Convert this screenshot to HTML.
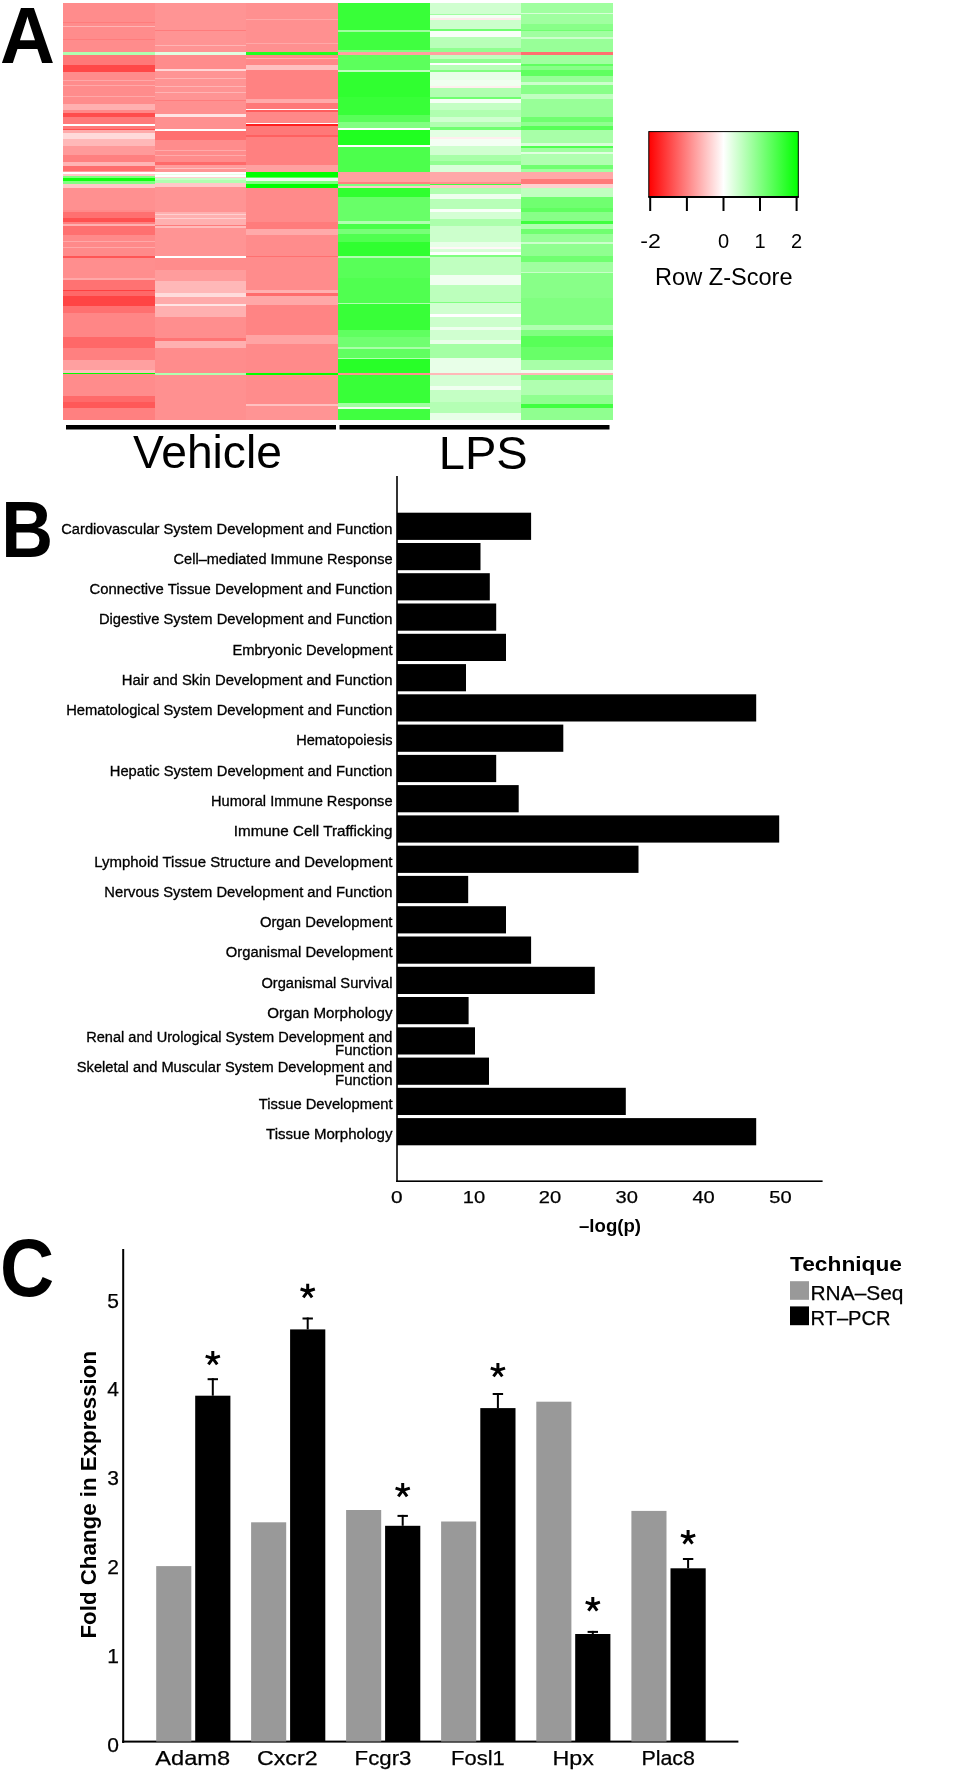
<!DOCTYPE html>
<html><head><meta charset="utf-8"><title>Figure</title>
<style>
html,body{margin:0;padding:0;background:#fff;}
body{width:965px;height:1778px;overflow:hidden;}
svg{display:block;will-change:transform;}
text{font-family:"Liberation Sans", sans-serif;fill:#000;}
</style></head>
<body>
<svg width="965" height="1778" viewBox="0 0 965 1778">
<rect x="0" y="0" width="965" height="1778" fill="#fff"/>
<g shape-rendering="crispEdges"><rect x="63" y="3.0" width="92" height="49.0" fill="#ff8c8c"/>
<rect x="63" y="22.0" width="92" height="1.0" fill="#ff7c7c"/>
<rect x="63" y="26.0" width="92" height="1.0" fill="#ffb4b4"/>
<rect x="63" y="39.0" width="92" height="1.0" fill="#ff7c7c"/>
<rect x="63" y="52.0" width="92" height="3.0" fill="#b0ffb0"/>
<rect x="63" y="55.0" width="92" height="10.0" fill="#ff7878"/>
<rect x="63" y="65.0" width="92" height="7.0" fill="#ff4848"/>
<rect x="63" y="72.0" width="92" height="32.0" fill="#ff8c8c"/>
<rect x="63" y="80.0" width="92" height="1.0" fill="#ffa8a8"/>
<rect x="63" y="85.0" width="92" height="1.0" fill="#ffa8a8"/>
<rect x="63" y="96.0" width="92" height="1.0" fill="#ffa8a8"/>
<rect x="63" y="104.0" width="92" height="6.0" fill="#ffb0b0"/>
<rect x="63" y="110.0" width="92" height="3.0" fill="#ff8888"/>
<rect x="63" y="113.0" width="92" height="4.0" fill="#ff4c4c"/>
<rect x="63" y="117.0" width="92" height="7.0" fill="#ff7a7a"/>
<rect x="63" y="124.0" width="92" height="1.5" fill="#ffffff"/>
<rect x="63" y="125.5" width="92" height="3.5" fill="#ff7a7a"/>
<rect x="63" y="129.0" width="92" height="1.0" fill="#ff5050"/>
<rect x="63" y="130.0" width="92" height="3.0" fill="#ffaaaa"/>
<rect x="63" y="133.0" width="92" height="6.0" fill="#ffdada"/>
<rect x="63" y="139.0" width="92" height="7.0" fill="#ffb8b8"/>
<rect x="63" y="146.0" width="92" height="9.0" fill="#ff9a9a"/>
<rect x="63" y="155.0" width="92" height="7.0" fill="#ff8080"/>
<rect x="63" y="162.0" width="92" height="4.0" fill="#ffb4b4"/>
<rect x="63" y="166.0" width="92" height="5.0" fill="#ff6e6e"/>
<rect x="63" y="171.0" width="92" height="1.0" fill="#ff9a9a"/>
<rect x="63" y="172.0" width="92" height="2.0" fill="#ffffff"/>
<rect x="63" y="174.0" width="92" height="2.0" fill="#ffc8c8"/>
<rect x="63" y="176.0" width="92" height="2.0" fill="#80ff80"/>
<rect x="63" y="178.0" width="92" height="3.0" fill="#10ff10"/>
<rect x="63" y="181.0" width="92" height="3.0" fill="#80ff80"/>
<rect x="63" y="184.0" width="92" height="4.0" fill="#ffc8c8"/>
<rect x="63" y="188.0" width="92" height="22.0" fill="#ff9090"/>
<rect x="63" y="210.0" width="92" height="2.0" fill="#ff8a8a"/>
<rect x="63" y="212.0" width="92" height="6.0" fill="#ff7070"/>
<rect x="63" y="218.0" width="92" height="4.0" fill="#ff5050"/>
<rect x="63" y="222.0" width="92" height="2.0" fill="#ff8080"/>
<rect x="63" y="224.0" width="92" height="2.0" fill="#ffb0b0"/>
<rect x="63" y="226.0" width="92" height="9.0" fill="#ff7070"/>
<rect x="63" y="235.0" width="92" height="21.0" fill="#ff8a8a"/>
<rect x="63" y="241.0" width="92" height="1.0" fill="#ffa8a8"/>
<rect x="63" y="247.0" width="92" height="1.0" fill="#ffa8a8"/>
<rect x="63" y="256.0" width="92" height="2.0" fill="#ff5555"/>
<rect x="63" y="258.0" width="92" height="20.0" fill="#ff8e8e"/>
<rect x="63" y="278.0" width="92" height="2.0" fill="#ffa8a8"/>
<rect x="63" y="280.0" width="92" height="10.0" fill="#ff7272"/>
<rect x="63" y="290.0" width="92" height="1.0" fill="#ff4040"/>
<rect x="63" y="291.0" width="92" height="5.0" fill="#ff6868"/>
<rect x="63" y="296.0" width="92" height="10.0" fill="#ff4444"/>
<rect x="63" y="306.0" width="92" height="7.0" fill="#ff7070"/>
<rect x="63" y="313.0" width="92" height="24.0" fill="#ff8686"/>
<rect x="63" y="337.0" width="92" height="11.0" fill="#ff6868"/>
<rect x="63" y="348.0" width="92" height="12.0" fill="#ff8080"/>
<rect x="63" y="360.0" width="92" height="10.0" fill="#ffa0a0"/>
<rect x="63" y="370.0" width="92" height="3.0" fill="#ffbcbc"/>
<rect x="63" y="373.0" width="92" height="1.0" fill="#00ff00"/>
<rect x="63" y="374.0" width="92" height="22.0" fill="#ff8c8c"/>
<rect x="63" y="396.0" width="92" height="6.0" fill="#ff6a6a"/>
<rect x="63" y="402.0" width="92" height="6.0" fill="#ff5858"/>
<rect x="63" y="408.0" width="92" height="11.800000000000011" fill="#ff8080"/>
<rect x="155" y="3.0" width="91" height="49.0" fill="#ff9494"/>
<rect x="155" y="30.0" width="91" height="1.0" fill="#ff7c7c"/>
<rect x="155" y="45.0" width="91" height="1.0" fill="#ffb4b4"/>
<rect x="155" y="52.0" width="91" height="3.0" fill="#e0ffe0"/>
<rect x="155" y="55.0" width="91" height="14.0" fill="#ff8c8c"/>
<rect x="155" y="69.0" width="91" height="2.0" fill="#ffd8d8"/>
<rect x="155" y="71.0" width="91" height="29.0" fill="#ff9494"/>
<rect x="155" y="78.0" width="91" height="1.0" fill="#ffb4b4"/>
<rect x="155" y="86.0" width="91" height="1.0" fill="#ffb4b4"/>
<rect x="155" y="92.0" width="91" height="1.0" fill="#ffb4b4"/>
<rect x="155" y="100.0" width="91" height="1.0" fill="#ff7c7c"/>
<rect x="155" y="101.0" width="91" height="13.0" fill="#ff9090"/>
<rect x="155" y="114.0" width="91" height="3.0" fill="#ffe4e4"/>
<rect x="155" y="117.0" width="91" height="12.0" fill="#ff9090"/>
<rect x="155" y="129.0" width="91" height="1.5" fill="#ffffff"/>
<rect x="155" y="130.5" width="91" height="9.5" fill="#ff7070"/>
<rect x="155" y="140.0" width="91" height="22.0" fill="#ff8c8c"/>
<rect x="155" y="150.0" width="91" height="1.0" fill="#ffaaaa"/>
<rect x="155" y="155.0" width="91" height="1.0" fill="#ffaaaa"/>
<rect x="155" y="162.0" width="91" height="3.0" fill="#ff6a6a"/>
<rect x="155" y="165.0" width="91" height="3.0" fill="#ff9c9c"/>
<rect x="155" y="168.0" width="91" height="1.0" fill="#ffc0c0"/>
<rect x="155" y="169.0" width="91" height="3.0" fill="#ff9494"/>
<rect x="155" y="172.0" width="91" height="2.0" fill="#ffffff"/>
<rect x="155" y="174.0" width="91" height="1.0" fill="#e8ffe8"/>
<rect x="155" y="175.0" width="91" height="2.0" fill="#ffffff"/>
<rect x="155" y="177.0" width="91" height="1.0" fill="#ffd0d0"/>
<rect x="155" y="178.0" width="91" height="2.0" fill="#c8ffc8"/>
<rect x="155" y="180.0" width="91" height="3.0" fill="#b0ffb0"/>
<rect x="155" y="183.0" width="91" height="4.0" fill="#ffc8c8"/>
<rect x="155" y="187.0" width="91" height="25.0" fill="#ff9494"/>
<rect x="155" y="212.0" width="91" height="13.0" fill="#ffb0b0"/>
<rect x="155" y="214.0" width="91" height="1.0" fill="#ffd0d0"/>
<rect x="155" y="218.0" width="91" height="1.0" fill="#ffd0d0"/>
<rect x="155" y="225.0" width="91" height="1.0" fill="#ff7c7c"/>
<rect x="155" y="226.0" width="91" height="2.0" fill="#ffbcbc"/>
<rect x="155" y="228.0" width="91" height="28.0" fill="#ff9494"/>
<rect x="155" y="256.0" width="91" height="2.0" fill="#ffffff"/>
<rect x="155" y="258.0" width="91" height="12.0" fill="#ff8c8c"/>
<rect x="155" y="270.0" width="91" height="11.0" fill="#ff9c9c"/>
<rect x="155" y="281.0" width="91" height="12.0" fill="#ffb8b8"/>
<rect x="155" y="293.0" width="91" height="4.0" fill="#ffdcdc"/>
<rect x="155" y="297.0" width="91" height="7.0" fill="#ffaaaa"/>
<rect x="155" y="304.0" width="91" height="2.0" fill="#ffe4e4"/>
<rect x="155" y="306.0" width="91" height="11.0" fill="#ffb0b0"/>
<rect x="155" y="317.0" width="91" height="21.0" fill="#ff8e8e"/>
<rect x="155" y="338.0" width="91" height="3.0" fill="#ff7474"/>
<rect x="155" y="341.0" width="91" height="7.0" fill="#ffb0b0"/>
<rect x="155" y="348.0" width="91" height="25.0" fill="#ff8c8c"/>
<rect x="155" y="373.0" width="91" height="2.0" fill="#b0ffb0"/>
<rect x="155" y="375.0" width="91" height="44.80000000000001" fill="#ff9090"/>
<rect x="246" y="3.0" width="92" height="49.0" fill="#ff9090"/>
<rect x="246" y="19.0" width="92" height="1.0" fill="#ffa8a8"/>
<rect x="246" y="43.0" width="92" height="1.0" fill="#ffa8a8"/>
<rect x="246" y="52.0" width="92" height="3.0" fill="#20ff20"/>
<rect x="246" y="55.0" width="92" height="10.0" fill="#ff8888"/>
<rect x="246" y="58.0" width="92" height="1.0" fill="#ffb0b0"/>
<rect x="246" y="65.0" width="92" height="5.0" fill="#ffc0c0"/>
<rect x="246" y="70.0" width="92" height="29.0" fill="#ff8282"/>
<rect x="246" y="99.0" width="92" height="4.0" fill="#ffaaaa"/>
<rect x="246" y="103.0" width="92" height="6.0" fill="#ff7878"/>
<rect x="246" y="109.0" width="92" height="1.0" fill="#ffffff"/>
<rect x="246" y="110.0" width="92" height="2.0" fill="#ff5c5c"/>
<rect x="246" y="112.0" width="92" height="11.0" fill="#ff8888"/>
<rect x="246" y="123.0" width="92" height="1.0" fill="#ffffff"/>
<rect x="246" y="124.0" width="92" height="1.5" fill="#ff2020"/>
<rect x="246" y="125.5" width="92" height="9.5" fill="#ff7878"/>
<rect x="246" y="135.0" width="92" height="2.0" fill="#ff6060"/>
<rect x="246" y="137.0" width="92" height="28.0" fill="#ff8080"/>
<rect x="246" y="165.0" width="92" height="7.0" fill="#ffa0a0"/>
<rect x="246" y="172.0" width="92" height="5.0" fill="#00ff00"/>
<rect x="246" y="177.0" width="92" height="1.0" fill="#60ff60"/>
<rect x="246" y="178.0" width="92" height="3.0" fill="#f0f8f0"/>
<rect x="246" y="181.0" width="92" height="3.0" fill="#80ff80"/>
<rect x="246" y="184.0" width="92" height="4.0" fill="#00ff00"/>
<rect x="246" y="188.0" width="92" height="34.0" fill="#ff8a8a"/>
<rect x="246" y="222.0" width="92" height="7.0" fill="#ff7c7c"/>
<rect x="246" y="229.0" width="92" height="6.0" fill="#ffaaaa"/>
<rect x="246" y="235.0" width="92" height="21.0" fill="#ff8c8c"/>
<rect x="246" y="256.0" width="92" height="1.0" fill="#ff7070"/>
<rect x="246" y="257.0" width="92" height="33.0" fill="#ff8c8c"/>
<rect x="246" y="290.0" width="92" height="3.0" fill="#ffb0b0"/>
<rect x="246" y="293.0" width="92" height="3.0" fill="#ff6c6c"/>
<rect x="246" y="296.0" width="92" height="9.0" fill="#ffa8a8"/>
<rect x="246" y="305.0" width="92" height="30.0" fill="#ff8484"/>
<rect x="246" y="335.0" width="92" height="9.0" fill="#ffa4a4"/>
<rect x="246" y="344.0" width="92" height="29.0" fill="#ff8a8a"/>
<rect x="246" y="373.0" width="92" height="2.0" fill="#00ff00"/>
<rect x="246" y="375.0" width="92" height="29.0" fill="#ff8c8c"/>
<rect x="246" y="404.0" width="92" height="2.0" fill="#ffc0c0"/>
<rect x="246" y="406.0" width="92" height="13.800000000000011" fill="#ff9494"/>
<rect x="338" y="3.0" width="92" height="27.0" fill="#38ff38"/>
<rect x="338" y="30.0" width="92" height="2.0" fill="#a0ffa0"/>
<rect x="338" y="32.0" width="92" height="18.0" fill="#40ff40"/>
<rect x="338" y="50.0" width="92" height="2.0" fill="#80ff80"/>
<rect x="338" y="52.0" width="92" height="3.0" fill="#ffa0a0"/>
<rect x="338" y="55.0" width="92" height="15.0" fill="#5cff5c"/>
<rect x="338" y="70.0" width="92" height="2.0" fill="#c0ffc0"/>
<rect x="338" y="72.0" width="92" height="25.0" fill="#30ff30"/>
<rect x="338" y="97.0" width="92" height="18.0" fill="#38ff38"/>
<rect x="338" y="115.0" width="92" height="7.0" fill="#58ff58"/>
<rect x="338" y="122.0" width="92" height="6.0" fill="#80ff80"/>
<rect x="338" y="128.0" width="92" height="2.0" fill="#ffffff"/>
<rect x="338" y="130.0" width="92" height="15.0" fill="#20ff20"/>
<rect x="338" y="145.0" width="92" height="2.0" fill="#ffffff"/>
<rect x="338" y="147.0" width="92" height="25.0" fill="#4cff4c"/>
<rect x="338" y="172.0" width="92" height="10.0" fill="#ffa0a0"/>
<rect x="338" y="182.0" width="92" height="2.0" fill="#ff8080"/>
<rect x="338" y="184.0" width="92" height="2.0" fill="#80ff80"/>
<rect x="338" y="186.0" width="92" height="2.0" fill="#ffcccc"/>
<rect x="338" y="188.0" width="92" height="9.0" fill="#30ff30"/>
<rect x="338" y="197.0" width="92" height="24.0" fill="#68ff68"/>
<rect x="338" y="221.0" width="92" height="3.0" fill="#b0ffb0"/>
<rect x="338" y="224.0" width="92" height="5.0" fill="#48ff48"/>
<rect x="338" y="229.0" width="92" height="5.0" fill="#78ff78"/>
<rect x="338" y="234.0" width="92" height="8.0" fill="#50ff50"/>
<rect x="338" y="242.0" width="92" height="14.0" fill="#30ff30"/>
<rect x="338" y="256.0" width="92" height="2.0" fill="#b0ffb0"/>
<rect x="338" y="258.0" width="92" height="20.0" fill="#58ff58"/>
<rect x="338" y="278.0" width="92" height="25.0" fill="#50ff50"/>
<rect x="338" y="303.0" width="92" height="1.0" fill="#b0ffb0"/>
<rect x="338" y="304.0" width="92" height="26.0" fill="#38ff38"/>
<rect x="338" y="330.0" width="92" height="7.0" fill="#60ff60"/>
<rect x="338" y="337.0" width="92" height="10.0" fill="#70ff70"/>
<rect x="338" y="347.0" width="92" height="2.0" fill="#a8ffa8"/>
<rect x="338" y="349.0" width="92" height="9.0" fill="#60ff60"/>
<rect x="338" y="358.0" width="92" height="1.0" fill="#b0ffb0"/>
<rect x="338" y="359.0" width="92" height="14.0" fill="#28ff28"/>
<rect x="338" y="373.0" width="92" height="2.0" fill="#ff9090"/>
<rect x="338" y="375.0" width="92" height="28.0" fill="#38ff38"/>
<rect x="338" y="403.0" width="92" height="4.0" fill="#a0ffa0"/>
<rect x="338" y="407.0" width="92" height="2.0" fill="#f0fff0"/>
<rect x="338" y="409.0" width="92" height="10.800000000000011" fill="#40ff40"/>
<rect x="430" y="3.0" width="91" height="11.0" fill="#d0ffd0"/>
<rect x="430" y="14.0" width="91" height="1.0" fill="#a0ffa0"/>
<rect x="430" y="15.0" width="91" height="3.0" fill="#f4fff4"/>
<rect x="430" y="18.0" width="91" height="2.0" fill="#ffeaea"/>
<rect x="430" y="20.0" width="91" height="9.0" fill="#ccffcc"/>
<rect x="430" y="29.0" width="91" height="2.0" fill="#70ff70"/>
<rect x="430" y="31.0" width="91" height="6.0" fill="#f8fff8"/>
<rect x="430" y="37.0" width="91" height="11.0" fill="#b8ffb8"/>
<rect x="430" y="48.0" width="91" height="4.0" fill="#90ff90"/>
<rect x="430" y="52.0" width="91" height="3.0" fill="#ffa0a0"/>
<rect x="430" y="55.0" width="91" height="4.0" fill="#c0ffc0"/>
<rect x="430" y="59.0" width="91" height="4.0" fill="#90ff90"/>
<rect x="430" y="63.0" width="91" height="2.0" fill="#ffffff"/>
<rect x="430" y="65.0" width="91" height="5.0" fill="#b8ffb8"/>
<rect x="430" y="70.0" width="91" height="2.0" fill="#80ff80"/>
<rect x="430" y="72.0" width="91" height="8.0" fill="#e8ffe8"/>
<rect x="430" y="80.0" width="91" height="6.0" fill="#f0fff0"/>
<rect x="430" y="86.0" width="91" height="2.0" fill="#ffeeee"/>
<rect x="430" y="88.0" width="91" height="9.0" fill="#b0ffb0"/>
<rect x="430" y="97.0" width="91" height="2.0" fill="#70ff70"/>
<rect x="430" y="99.0" width="91" height="4.0" fill="#f4fff4"/>
<rect x="430" y="103.0" width="91" height="7.0" fill="#c4ffc4"/>
<rect x="430" y="110.0" width="91" height="7.0" fill="#b0ffb0"/>
<rect x="430" y="117.0" width="91" height="5.0" fill="#d0ffd0"/>
<rect x="430" y="122.0" width="91" height="5.0" fill="#b0ffb0"/>
<rect x="430" y="127.0" width="91" height="3.0" fill="#70ff70"/>
<rect x="430" y="130.0" width="91" height="7.0" fill="#e4ffe4"/>
<rect x="430" y="137.0" width="91" height="2.0" fill="#ffeeee"/>
<rect x="430" y="139.0" width="91" height="7.0" fill="#f4fff4"/>
<rect x="430" y="146.0" width="91" height="9.0" fill="#d0ffd0"/>
<rect x="430" y="155.0" width="91" height="6.0" fill="#a8ffa8"/>
<rect x="430" y="161.0" width="91" height="4.0" fill="#90ff90"/>
<rect x="430" y="165.0" width="91" height="7.0" fill="#d8ffd8"/>
<rect x="430" y="172.0" width="91" height="10.0" fill="#ffa8a8"/>
<rect x="430" y="182.0" width="91" height="2.0" fill="#ff9090"/>
<rect x="430" y="184.0" width="91" height="1.0" fill="#40ff40"/>
<rect x="430" y="185.0" width="91" height="3.0" fill="#ffc8c8"/>
<rect x="430" y="188.0" width="91" height="6.0" fill="#b0ffb0"/>
<rect x="430" y="194.0" width="91" height="5.0" fill="#eeffee"/>
<rect x="430" y="199.0" width="91" height="10.0" fill="#b8ffb8"/>
<rect x="430" y="209.0" width="91" height="3.0" fill="#f8fff8"/>
<rect x="430" y="212.0" width="91" height="7.0" fill="#d4ffd4"/>
<rect x="430" y="219.0" width="91" height="7.0" fill="#acffac"/>
<rect x="430" y="226.0" width="91" height="16.0" fill="#ccffcc"/>
<rect x="430" y="242.0" width="91" height="5.0" fill="#e8ffe8"/>
<rect x="430" y="247.0" width="91" height="2.0" fill="#fff8f8"/>
<rect x="430" y="249.0" width="91" height="3.0" fill="#d8ffd8"/>
<rect x="430" y="252.0" width="91" height="3.0" fill="#ffffff"/>
<rect x="430" y="255.0" width="91" height="2.0" fill="#80ff80"/>
<rect x="430" y="257.0" width="91" height="18.0" fill="#c0ffc0"/>
<rect x="430" y="275.0" width="91" height="10.0" fill="#f0fff0"/>
<rect x="430" y="285.0" width="91" height="17.0" fill="#bcffbc"/>
<rect x="430" y="302.0" width="91" height="1.0" fill="#80ff80"/>
<rect x="430" y="303.0" width="91" height="11.0" fill="#d0ffd0"/>
<rect x="430" y="314.0" width="91" height="3.0" fill="#ffffff"/>
<rect x="430" y="317.0" width="91" height="10.0" fill="#ccffcc"/>
<rect x="430" y="327.0" width="91" height="3.0" fill="#eeffee"/>
<rect x="430" y="330.0" width="91" height="10.0" fill="#d0ffd0"/>
<rect x="430" y="340.0" width="91" height="4.0" fill="#e8ffe8"/>
<rect x="430" y="344.0" width="91" height="14.0" fill="#a4ffa4"/>
<rect x="430" y="358.0" width="91" height="15.0" fill="#e8ffe8"/>
<rect x="430" y="373.0" width="91" height="2.0" fill="#ffb8b8"/>
<rect x="430" y="375.0" width="91" height="11.0" fill="#d4ffd4"/>
<rect x="430" y="386.0" width="91" height="4.0" fill="#f0fff0"/>
<rect x="430" y="390.0" width="91" height="12.0" fill="#c4ffc4"/>
<rect x="430" y="402.0" width="91" height="11.0" fill="#b4ffb4"/>
<rect x="430" y="413.0" width="91" height="6.800000000000011" fill="#e8ffe8"/>
<rect x="521" y="3.0" width="92" height="10.0" fill="#a0ffa0"/>
<rect x="521" y="13.0" width="92" height="1.0" fill="#d8ffd8"/>
<rect x="521" y="14.0" width="92" height="10.0" fill="#a0ffa0"/>
<rect x="521" y="24.0" width="92" height="6.0" fill="#88ff88"/>
<rect x="521" y="30.0" width="92" height="1.0" fill="#70ff70"/>
<rect x="521" y="31.0" width="92" height="6.0" fill="#a0ffa0"/>
<rect x="521" y="37.0" width="92" height="2.0" fill="#ccffcc"/>
<rect x="521" y="39.0" width="92" height="13.0" fill="#98ff98"/>
<rect x="521" y="52.0" width="92" height="3.0" fill="#ff7070"/>
<rect x="521" y="55.0" width="92" height="9.0" fill="#a0ffa0"/>
<rect x="521" y="64.0" width="92" height="2.0" fill="#60ff60"/>
<rect x="521" y="66.0" width="92" height="4.0" fill="#88ff88"/>
<rect x="521" y="70.0" width="92" height="6.0" fill="#60ff60"/>
<rect x="521" y="76.0" width="92" height="6.0" fill="#98ff98"/>
<rect x="521" y="82.0" width="92" height="3.0" fill="#ccffcc"/>
<rect x="521" y="85.0" width="92" height="9.0" fill="#88ff88"/>
<rect x="521" y="94.0" width="92" height="5.0" fill="#c0ffc0"/>
<rect x="521" y="99.0" width="92" height="18.0" fill="#98ff98"/>
<rect x="521" y="117.0" width="92" height="5.0" fill="#70ff70"/>
<rect x="521" y="122.0" width="92" height="4.0" fill="#90ff90"/>
<rect x="521" y="126.0" width="92" height="4.0" fill="#58ff58"/>
<rect x="521" y="130.0" width="92" height="13.0" fill="#a8ffa8"/>
<rect x="521" y="143.0" width="92" height="3.0" fill="#d8ffd8"/>
<rect x="521" y="146.0" width="92" height="2.0" fill="#50ff50"/>
<rect x="521" y="148.0" width="92" height="4.0" fill="#a0ffa0"/>
<rect x="521" y="152.0" width="92" height="2.0" fill="#e0ffe0"/>
<rect x="521" y="154.0" width="92" height="11.0" fill="#b0ffb0"/>
<rect x="521" y="165.0" width="92" height="4.0" fill="#70ff70"/>
<rect x="521" y="169.0" width="92" height="3.0" fill="#a0ffa0"/>
<rect x="521" y="172.0" width="92" height="7.0" fill="#ffa8a8"/>
<rect x="521" y="179.0" width="92" height="5.0" fill="#ff7a7a"/>
<rect x="521" y="184.0" width="92" height="4.0" fill="#ffd0d0"/>
<rect x="521" y="188.0" width="92" height="9.0" fill="#c0ffc0"/>
<rect x="521" y="197.0" width="92" height="11.0" fill="#70ff70"/>
<rect x="521" y="208.0" width="92" height="4.0" fill="#60ff60"/>
<rect x="521" y="212.0" width="92" height="9.0" fill="#88ff88"/>
<rect x="521" y="221.0" width="92" height="3.0" fill="#40ff40"/>
<rect x="521" y="224.0" width="92" height="5.0" fill="#b0ffb0"/>
<rect x="521" y="229.0" width="92" height="5.0" fill="#70ff70"/>
<rect x="521" y="234.0" width="92" height="8.0" fill="#98ff98"/>
<rect x="521" y="242.0" width="92" height="2.0" fill="#ccffcc"/>
<rect x="521" y="244.0" width="92" height="12.0" fill="#90ff90"/>
<rect x="521" y="256.0" width="92" height="6.0" fill="#70ff70"/>
<rect x="521" y="262.0" width="92" height="10.0" fill="#a0ffa0"/>
<rect x="521" y="272.0" width="92" height="1.0" fill="#c8ffc8"/>
<rect x="521" y="273.0" width="92" height="25.0" fill="#88ff88"/>
<rect x="521" y="298.0" width="92" height="27.0" fill="#80ff80"/>
<rect x="521" y="325.0" width="92" height="5.0" fill="#b0ffb0"/>
<rect x="521" y="330.0" width="92" height="6.0" fill="#80ff80"/>
<rect x="521" y="336.0" width="92" height="11.0" fill="#58ff58"/>
<rect x="521" y="347.0" width="92" height="13.0" fill="#68ff68"/>
<rect x="521" y="360.0" width="92" height="10.0" fill="#a8ffa8"/>
<rect x="521" y="370.0" width="92" height="3.0" fill="#f0fff0"/>
<rect x="521" y="373.0" width="92" height="2.0" fill="#ffb8b8"/>
<rect x="521" y="375.0" width="92" height="5.0" fill="#80ff80"/>
<rect x="521" y="380.0" width="92" height="15.0" fill="#b0ffb0"/>
<rect x="521" y="395.0" width="92" height="9.0" fill="#90ff90"/>
<rect x="521" y="404.0" width="92" height="4.0" fill="#40ff40"/>
<rect x="521" y="408.0" width="92" height="11.800000000000011" fill="#90ff90"/></g>
<text transform="translate(0.04,62.8) scale(1.014,1.06)" x="0" y="0" font-size="75" font-weight="bold">A</text>
<rect x="66" y="425" width="270" height="4.5" fill="#000"/>
<rect x="339.5" y="425" width="270" height="4.5" fill="#000"/>
<text x="133" y="468.3" font-size="45.5" textLength="148.9" lengthAdjust="spacingAndGlyphs">Vehicle</text>
<text x="438.8" y="468.5" font-size="46" textLength="88.9" lengthAdjust="spacingAndGlyphs">LPS</text>
<defs><linearGradient id="zg" x1="0" x2="1" y1="0" y2="0">
<stop offset="0" stop-color="#ff0000"/><stop offset="0.5" stop-color="#ffffff"/><stop offset="1" stop-color="#00ff00"/>
</linearGradient></defs>
<rect x="648.8" y="131.6" width="149.5" height="65" fill="url(#zg)" stroke="#000" stroke-width="1"/>
<rect x="648.3" y="196" width="150.5" height="2" fill="#000"/>
<rect x="649.2" y="197" width="2" height="14" fill="#000"/>
<rect x="685.9" y="197" width="2" height="14" fill="#000"/>
<rect x="722.5" y="197" width="2" height="14" fill="#000"/>
<rect x="759" y="197" width="2" height="14" fill="#000"/>
<rect x="795.6" y="197" width="2" height="14" fill="#000"/>
<text x="640.2" y="247.5" font-size="20" textLength="20.6" lengthAdjust="spacingAndGlyphs">-2</text>
<text x="723.5" y="247.5" font-size="20" text-anchor="middle">0</text>
<text x="760" y="247.5" font-size="20" text-anchor="middle">1</text>
<text x="796.6" y="247.5" font-size="20" text-anchor="middle">2</text>
<text x="655" y="284.8" font-size="23.2" textLength="137.6" lengthAdjust="spacingAndGlyphs">Row Z-Score</text>
<text transform="translate(1.2,557) scale(0.957,1.059)" x="0" y="0" font-size="75" font-weight="bold">B</text>
<rect x="397" y="512.7" width="134.1" height="27.2" fill="#000"/>
<text x="61.2" y="533.5" font-size="14" stroke="#000" stroke-width="0.3" textLength="331.3" lengthAdjust="spacingAndGlyphs">Cardiovascular System Development and Function</text>
<rect x="397" y="543.0" width="83.5" height="27.2" fill="#000"/>
<text x="173.6" y="563.8" font-size="14" stroke="#000" stroke-width="0.3" textLength="218.9" lengthAdjust="spacingAndGlyphs">Cell–mediated Immune Response</text>
<rect x="397" y="573.2" width="92.8" height="27.2" fill="#000"/>
<text x="89.5" y="594.0" font-size="14" stroke="#000" stroke-width="0.3" textLength="303.0" lengthAdjust="spacingAndGlyphs">Connective Tissue Development and Function</text>
<rect x="397" y="603.5" width="99.2" height="27.2" fill="#000"/>
<text x="98.9" y="624.3" font-size="14" stroke="#000" stroke-width="0.3" textLength="293.6" lengthAdjust="spacingAndGlyphs">Digestive System Development and Function</text>
<rect x="397" y="633.8" width="109.0" height="27.2" fill="#000"/>
<text x="232.39999999999998" y="654.6" font-size="14" stroke="#000" stroke-width="0.3" textLength="160.1" lengthAdjust="spacingAndGlyphs">Embryonic Development</text>
<rect x="397" y="664.1" width="69.0" height="27.2" fill="#000"/>
<text x="121.7" y="684.9" font-size="14" stroke="#000" stroke-width="0.3" textLength="270.8" lengthAdjust="spacingAndGlyphs">Hair and Skin Development and Function</text>
<rect x="397" y="694.3" width="359.2" height="27.2" fill="#000"/>
<text x="66.2" y="715.1" font-size="14" stroke="#000" stroke-width="0.3" textLength="326.3" lengthAdjust="spacingAndGlyphs">Hematological System Development and Function</text>
<rect x="397" y="724.6" width="166.3" height="27.2" fill="#000"/>
<text x="296.2" y="745.4" font-size="14" stroke="#000" stroke-width="0.3" textLength="96.3" lengthAdjust="spacingAndGlyphs">Hematopoiesis</text>
<rect x="397" y="754.9" width="99.2" height="27.2" fill="#000"/>
<text x="109.8" y="775.7" font-size="14" stroke="#000" stroke-width="0.3" textLength="282.7" lengthAdjust="spacingAndGlyphs">Hepatic System Development and Function</text>
<rect x="397" y="785.1" width="121.7" height="27.2" fill="#000"/>
<text x="211.0" y="805.9" font-size="14" stroke="#000" stroke-width="0.3" textLength="181.5" lengthAdjust="spacingAndGlyphs">Humoral Immune Response</text>
<rect x="397" y="815.4" width="382.2" height="27.2" fill="#000"/>
<text x="233.79999999999998" y="836.2" font-size="14" stroke="#000" stroke-width="0.3" textLength="158.7" lengthAdjust="spacingAndGlyphs">Immune Cell Trafficking</text>
<rect x="397" y="845.7" width="241.5" height="27.2" fill="#000"/>
<text x="94.2" y="866.5" font-size="14" stroke="#000" stroke-width="0.3" textLength="298.3" lengthAdjust="spacingAndGlyphs">Lymphoid Tissue Structure and Development</text>
<rect x="397" y="875.9" width="71.2" height="27.2" fill="#000"/>
<text x="104.3" y="896.7" font-size="14" stroke="#000" stroke-width="0.3" textLength="288.2" lengthAdjust="spacingAndGlyphs">Nervous System Development and Function</text>
<rect x="397" y="906.2" width="109.0" height="27.2" fill="#000"/>
<text x="259.9" y="927.0" font-size="14" stroke="#000" stroke-width="0.3" textLength="132.6" lengthAdjust="spacingAndGlyphs">Organ Development</text>
<rect x="397" y="936.5" width="134.1" height="27.2" fill="#000"/>
<text x="225.79999999999998" y="957.3" font-size="14" stroke="#000" stroke-width="0.3" textLength="166.7" lengthAdjust="spacingAndGlyphs">Organismal Development</text>
<rect x="397" y="966.8" width="197.8" height="27.2" fill="#000"/>
<text x="261.4" y="987.5" font-size="14" stroke="#000" stroke-width="0.3" textLength="131.1" lengthAdjust="spacingAndGlyphs">Organismal Survival</text>
<rect x="397" y="997.0" width="71.6" height="27.2" fill="#000"/>
<text x="267.2" y="1017.8" font-size="14" stroke="#000" stroke-width="0.3" textLength="125.3" lengthAdjust="spacingAndGlyphs">Organ Morphology</text>
<rect x="397" y="1027.3" width="78.0" height="27.2" fill="#000"/>
<text x="86.2" y="1041.5" font-size="14" stroke="#000" stroke-width="0.3" textLength="306.3" lengthAdjust="spacingAndGlyphs">Renal and Urological System Development and</text>
<text x="335.0" y="1054.5" font-size="14" stroke="#000" stroke-width="0.3" textLength="57.5" lengthAdjust="spacingAndGlyphs">Function</text>
<rect x="397" y="1057.6" width="92.0" height="27.2" fill="#000"/>
<text x="76.8" y="1071.8" font-size="14" stroke="#000" stroke-width="0.3" textLength="315.7" lengthAdjust="spacingAndGlyphs">Skeletal and Muscular System Development and</text>
<text x="335.0" y="1084.8" font-size="14" stroke="#000" stroke-width="0.3" textLength="57.5" lengthAdjust="spacingAndGlyphs">Function</text>
<rect x="397" y="1087.8" width="228.8" height="27.2" fill="#000"/>
<text x="258.8" y="1108.6" font-size="14" stroke="#000" stroke-width="0.3" textLength="133.7" lengthAdjust="spacingAndGlyphs">Tissue Development</text>
<rect x="397" y="1118.1" width="359.2" height="27.2" fill="#000"/>
<text x="266.09999999999997" y="1138.9" font-size="14" stroke="#000" stroke-width="0.3" textLength="126.4" lengthAdjust="spacingAndGlyphs">Tissue Morphology</text>
<rect x="396.2" y="476" width="1.6" height="706" fill="#000"/>
<rect x="396.2" y="1180.4" width="426.4" height="1.6" fill="#000"/>
<text x="390.9" y="1203.2" font-size="17" stroke="#000" stroke-width="0.25" textLength="11.6" lengthAdjust="spacingAndGlyphs">0</text>
<text x="462.8" y="1203.2" font-size="17" stroke="#000" stroke-width="0.25" textLength="22.4" lengthAdjust="spacingAndGlyphs">10</text>
<text x="538.8" y="1203.2" font-size="17" stroke="#000" stroke-width="0.25" textLength="22.4" lengthAdjust="spacingAndGlyphs">20</text>
<text x="615.6" y="1203.2" font-size="17" stroke="#000" stroke-width="0.25" textLength="22.4" lengthAdjust="spacingAndGlyphs">30</text>
<text x="692.4" y="1203.2" font-size="17" stroke="#000" stroke-width="0.25" textLength="22.4" lengthAdjust="spacingAndGlyphs">40</text>
<text x="769.3" y="1203.2" font-size="17" stroke="#000" stroke-width="0.25" textLength="22.4" lengthAdjust="spacingAndGlyphs">50</text>
<text x="579" y="1232" font-size="19" font-weight="bold" textLength="62" lengthAdjust="spacingAndGlyphs">–log(p)</text>
<text transform="translate(0,1296) scale(1.0,1.079)" x="0" y="0" font-size="75" font-weight="bold">C</text>
<rect x="122.2" y="1249" width="2" height="494" fill="#000"/>
<rect x="122.2" y="1740.6" width="616.2" height="2" fill="#000"/>
<text x="119" y="1752.0" font-size="21" stroke="#000" stroke-width="0.25" text-anchor="end">0</text>
<text x="119" y="1663.1" font-size="21" stroke="#000" stroke-width="0.25" text-anchor="end">1</text>
<text x="119" y="1574.2" font-size="21" stroke="#000" stroke-width="0.25" text-anchor="end">2</text>
<text x="119" y="1485.3" font-size="21" stroke="#000" stroke-width="0.25" text-anchor="end">3</text>
<text x="119" y="1396.4" font-size="21" stroke="#000" stroke-width="0.25" text-anchor="end">4</text>
<text x="119" y="1307.5" font-size="21" stroke="#000" stroke-width="0.25" text-anchor="end">5</text>
<text transform="translate(96,1638.5) rotate(-90)" x="0" y="0" font-size="22" font-weight="bold" textLength="287.5" lengthAdjust="spacingAndGlyphs">Fold Change in Expression</text>
<rect x="156.2" y="1566.1" width="35.1" height="175.4" fill="#999999"/>
<rect x="195.2" y="1395.7" width="35.2" height="345.8" fill="#000"/>
<rect x="211.8" y="1378.2" width="2" height="17.5" fill="#000"/>
<rect x="207.6" y="1378.2" width="10.4" height="2" fill="#000"/>
<path d="M212.80 1358.40L212.80 1350.90 M212.80 1358.40L205.67 1356.08 M212.80 1358.40L208.39 1364.47 M212.80 1358.40L217.21 1364.47 M212.80 1358.40L219.93 1356.08" stroke="#000" stroke-width="3" fill="none"/>
<text x="155.3" y="1765.3" font-size="21" stroke="#000" stroke-width="0.25" textLength="74.9" lengthAdjust="spacingAndGlyphs">Adam8</text>
<rect x="251.1" y="1522.3" width="35.1" height="219.2" fill="#999999"/>
<rect x="290.1" y="1329.4" width="35.2" height="412.1" fill="#000"/>
<rect x="306.7" y="1317.5" width="2" height="11.9" fill="#000"/>
<rect x="302.5" y="1317.5" width="10.4" height="2" fill="#000"/>
<path d="M307.70 1291.30L307.70 1283.80 M307.70 1291.30L300.57 1288.98 M307.70 1291.30L303.29 1297.37 M307.70 1291.30L312.11 1297.37 M307.70 1291.30L314.83 1288.98" stroke="#000" stroke-width="3" fill="none"/>
<text x="257.0" y="1765.3" font-size="21" stroke="#000" stroke-width="0.25" textLength="60.6" lengthAdjust="spacingAndGlyphs">Cxcr2</text>
<rect x="346.1" y="1510.0" width="35.1" height="231.5" fill="#999999"/>
<rect x="385.1" y="1525.8" width="35.2" height="215.7" fill="#000"/>
<rect x="401.7" y="1514.9" width="2" height="10.9" fill="#000"/>
<rect x="397.5" y="1514.9" width="10.4" height="2" fill="#000"/>
<path d="M402.70 1490.40L402.70 1482.90 M402.70 1490.40L395.57 1488.08 M402.70 1490.40L398.29 1496.47 M402.70 1490.40L407.11 1496.47 M402.70 1490.40L409.83 1488.08" stroke="#000" stroke-width="3" fill="none"/>
<text x="354.6" y="1765.3" font-size="21" stroke="#000" stroke-width="0.25" textLength="56.8" lengthAdjust="spacingAndGlyphs">Fcgr3</text>
<rect x="441.1" y="1521.5" width="35.1" height="220.0" fill="#999999"/>
<rect x="480.3" y="1408.1" width="35.2" height="333.4" fill="#000"/>
<rect x="496.9" y="1393.0" width="2" height="15.1" fill="#000"/>
<rect x="492.7" y="1393.0" width="10.4" height="2" fill="#000"/>
<path d="M497.90 1370.40L497.90 1362.90 M497.90 1370.40L490.77 1368.08 M497.90 1370.40L493.49 1376.47 M497.90 1370.40L502.31 1376.47 M497.90 1370.40L505.03 1368.08" stroke="#000" stroke-width="3" fill="none"/>
<text x="451.1" y="1765.3" font-size="21" stroke="#000" stroke-width="0.25" textLength="53.6" lengthAdjust="spacingAndGlyphs">Fosl1</text>
<rect x="536.3" y="1401.7" width="35.1" height="339.8" fill="#999999"/>
<rect x="575.2" y="1634.0" width="35.2" height="107.5" fill="#000"/>
<rect x="591.8" y="1630.9" width="2" height="3.1" fill="#000"/>
<rect x="587.6" y="1630.9" width="10.4" height="2" fill="#000"/>
<path d="M592.80 1604.50L592.80 1597.00 M592.80 1604.50L585.67 1602.18 M592.80 1604.50L588.39 1610.57 M592.80 1604.50L597.21 1610.57 M592.80 1604.50L599.93 1602.18" stroke="#000" stroke-width="3" fill="none"/>
<text x="552.4" y="1765.3" font-size="21" stroke="#000" stroke-width="0.25" textLength="41.4" lengthAdjust="spacingAndGlyphs">Hpx</text>
<rect x="631.4" y="1510.9" width="35.1" height="230.6" fill="#999999"/>
<rect x="670.5" y="1568.3" width="35.2" height="173.2" fill="#000"/>
<rect x="687.1" y="1558.0" width="2" height="10.3" fill="#000"/>
<rect x="682.9" y="1558.0" width="10.4" height="2" fill="#000"/>
<path d="M688.10 1537.50L688.10 1530.00 M688.10 1537.50L680.97 1535.18 M688.10 1537.50L683.69 1543.57 M688.10 1537.50L692.51 1543.57 M688.10 1537.50L695.23 1535.18" stroke="#000" stroke-width="3" fill="none"/>
<text x="641.4" y="1765.3" font-size="21" stroke="#000" stroke-width="0.25" textLength="53.6" lengthAdjust="spacingAndGlyphs">Plac8</text>
<text x="790" y="1271.1" font-size="21" font-weight="bold" textLength="112" lengthAdjust="spacingAndGlyphs">Technique</text>
<rect x="790" y="1281.2" width="19" height="18.6" fill="#999999"/>
<rect x="790" y="1306.4" width="19" height="18.8" fill="#000"/>
<text x="810.5" y="1299.8" font-size="21" stroke="#000" stroke-width="0.25" textLength="93" lengthAdjust="spacingAndGlyphs">RNA–Seq</text>
<text x="810.5" y="1325.2" font-size="21" stroke="#000" stroke-width="0.25" textLength="80" lengthAdjust="spacingAndGlyphs">RT–PCR</text>
</svg>
</body></html>
